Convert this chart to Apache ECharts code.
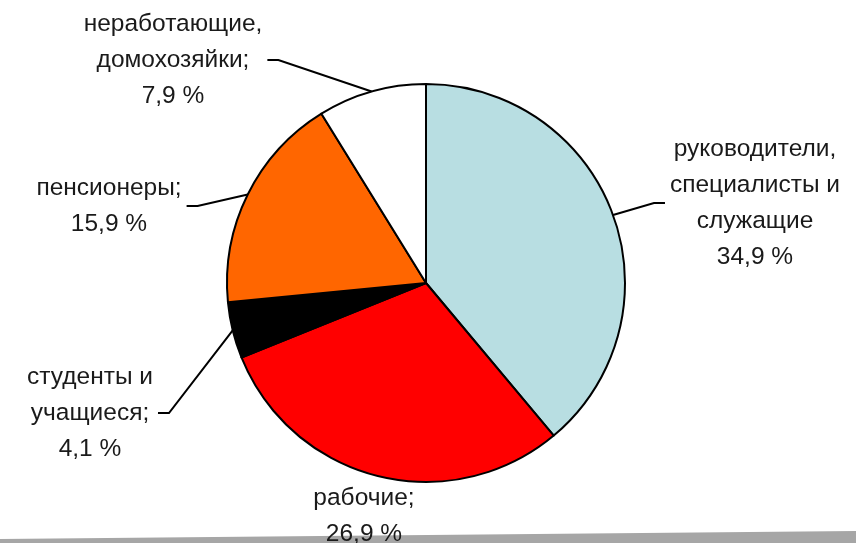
<!DOCTYPE html>
<html lang="ru">
<head>
    <meta charset="UTF-8">
    <title>Состав по социальным группам</title>
    <script src="https://cdn.jsdelivr.net/npm/echarts@6/dist/echarts.min.js"></script>
    <style>
        html, body { margin: 0; padding: 0; background: #fff; }
        #chart { width: 856px; height: 543px; }
    </style>
</head>
<body>
<div id="chart"></div>
<script type="text/javascript">
    // --- данные ---
    var names = [
        'руководители,\nспециалисты и\nслужащие',
        'рабочие;',
        'студенты и\nучащиеся;',
        'пенсионеры;',
        'неработающие,\nдомохозяйки;'
    ];
    var values = [34.9, 26.9, 4.1, 15.9, 7.9];
    var colors = ['#b8dee2', '#ff0000', '#000000', '#ff6600', '#ffffff'];

    // центры подписей (разметка)
    var labelPos = [[755, 203], [364, 516], [90, 413], [109, 206], [173, 60]];
    var cx = 426, cy = 283;

    var data = [];
    for (var i = 0; i < values.length; i++) {
        var item = { name: names[i], value: values[i], itemStyle: { color: colors[i] } };
        if (i === 1) item.labelLine = { show: false };
        data.push(item);
    }

    var myChart = echarts.init(document.getElementById('chart'));
    var option = {
        animation: false,
        backgroundColor: '#fff',
        graphic: [{
            type: 'polygon',
            shape: { points: [[0, 539], [856, 531], [856, 543], [0, 543]] },
            style: { fill: '#a6a6a6' },
            silent: true
        }],
        series: [{
            type: 'pie',
            center: [cx, cy],
            radius: 199,
            startAngle: 90,
            clockwise: true,
            avoidLabelOverlap: false,
            itemStyle: { borderColor: '#000', borderWidth: 2 },
            emphasis: { disabled: true },
            label: {
                show: true,
                position: 'outside',
                fontFamily: 'Liberation Sans, Arial, sans-serif',
                fontSize: 24.5,
                lineHeight: 36,
                color: '#1a1a1a',
                align: 'center',
                formatter: function (p) {
                    return p.name + '\n' + String(p.value).replace('.', ',') + ' %';
                }
            },
            labelLine: {
                show: true,
                length: 20,
                length2: 10,
                lineStyle: { color: '#000', width: 2 }
            },
            labelLayout: function (params) {
                var pos = labelPos[params.dataIndex];
                var res = { x: pos[0], y: pos[1], align: 'center', verticalAlign: 'middle' };
                var pts = params.labelLinePoints;
                if (pts && params.dataIndex !== 1) {
                    var hw = params.labelRect.width / 2;
                    var side = pos[0] < cx ? 1 : -1;
                    var endX = pos[0] + side * (hw + 5);
                    res.labelLinePoints = [pts[0], [endX + side * 11, pos[1]], [endX, pos[1]]];
                }
                return res;
            },
            data: data
        }]
    };
    myChart.setOption(option);
</script>
</body>
</html>
